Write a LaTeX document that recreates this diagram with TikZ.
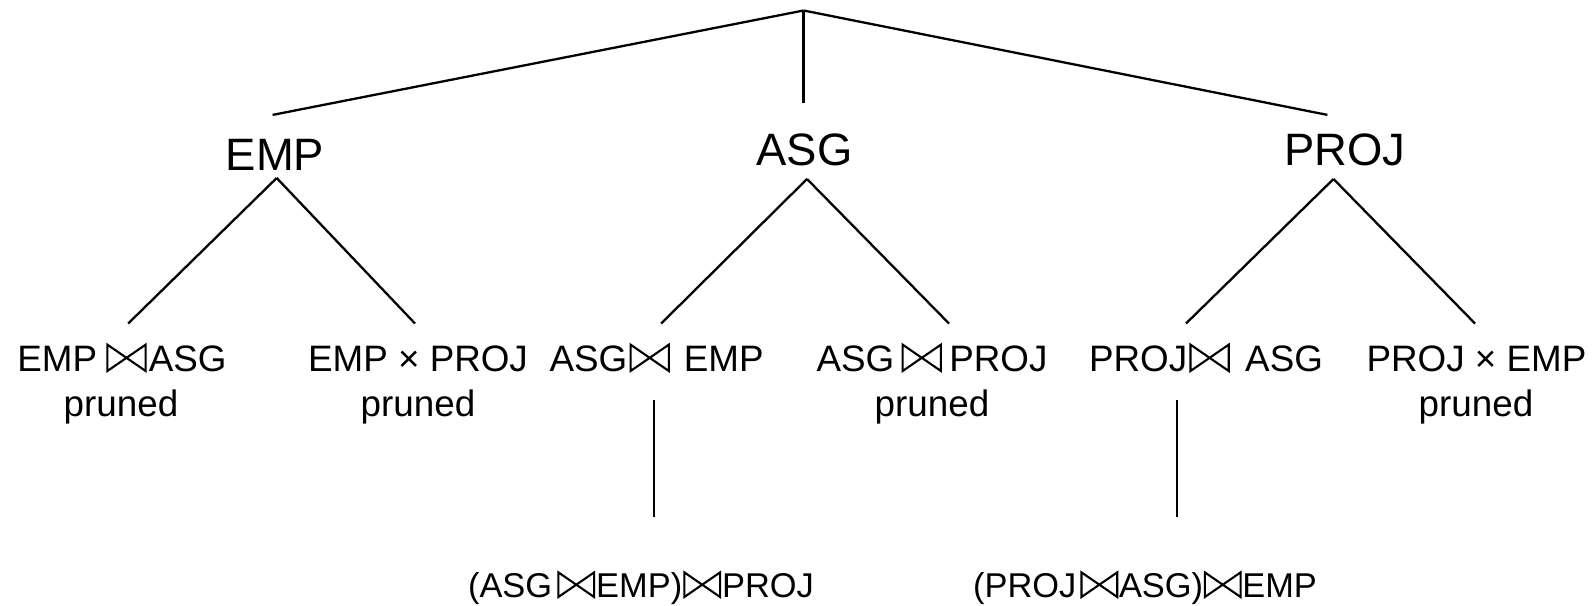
\documentclass[tikz,border=0pt]{standalone}
\usepackage{fontspec}
\setmainfont{Liberation Sans}
\newcommand{\bwt}{\tikz[baseline=0pt]\draw[line width=1.05pt,line join=miter,black] (0,0)--(0,0.716em)--(1.04em,0)--(1.04em,0.716em)--cycle;}
\tikzset{
  big/.style={anchor=base,inner sep=0pt,font=\fontsize{22.7}{26}\selectfont},
  small/.style={anchor=base,inner sep=0pt,font=\fontsize{18.4}{20}\selectfont},
  third/.style={anchor=base,inner sep=0pt,font=\fontsize{17.2}{20}\selectfont},
  edge/.style={line width=1.15pt,black}
}
\begin{document}
\begin{tikzpicture}[x=0.5pt,y=-0.5pt]
\useasboundingbox (0,0) rectangle (1595,605);
% root and level 1
\coordinate (root) at (803.6,10.5);
\coordinate (e1) at (272.6,114.9);
\coordinate (a1) at (803.6,102.7);
\coordinate (p1) at (1327.4,114.9);
\node[big] (emp) at (275,170.7) {EMP};
\node[big] (asg) at (804.6,165) {ASG};
\node[big] (proj) at (1344.7,165) {PROJ};
\draw[edge] (root) -- (e1);
\draw[edge] (root) -- (a1);
\draw[edge] (root) -- (p1);
% level 1 to level 2
\coordinate (et) at (276.7,178); \coordinate (el) at (128.2,323.5); \coordinate (er) at (415,323.5);
\coordinate (at) at (807,179); \coordinate (al) at (661.2,323.5); \coordinate (ar) at (949,323.5);
\coordinate (pt) at (1333.5,179); \coordinate (pl) at (1186,323.5); \coordinate (pr) at (1475,323.5);
\draw[edge] (et) -- (el); \draw[edge] (et) -- (er);
\draw[edge] (at) -- (al); \draw[edge] (at) -- (ar);
\draw[edge] (pt) -- (pl); \draw[edge] (pt) -- (pr);
% level 2
\node[small] (ea) at (122,371) {EMP\hspace{0.25em}\bwt\hspace{0.06em}ASG};
\node[small] (ep) at (418,371) {EMP × PROJ};
\node[small] (ae) at (656.6,371) {ASG\hspace{0.06em}\bwt\hspace{0.38em}EMP};
\node[small] (ap) at (932,371) {ASG\hspace{0.2em}\bwt\hspace{0.2em}PROJ};
\node[small] (pa) at (1206,371) {PROJ\hspace{0.06em}\bwt\hspace{0.42em}ASG};
\node[small] (pe) at (1476.5,371) {PROJ × EMP};
\node[small] (ea2) at (121,416) {pruned};
\node[small] (ep2) at (418,416) {pruned};
\node[small] (ap2) at (932,416) {pruned};
\node[small] (pe2) at (1476,416) {pruned};
% verticals
\coordinate (v1t) at (654,399.8); \coordinate (v1b) at (654,516.7);
\coordinate (v2t) at (1177,399.8); \coordinate (v2b) at (1177,516.7);
\draw[edge] (v1t) -- (v1b);
\draw[edge] (v2t) -- (v2b);
% level 3
\node[third] (aep) at (641,597) {(ASG\hspace{0.15em}\bwt\hspace{0.03em}EMP)\hspace{0.03em}\bwt\hspace{0.03em}PROJ};
\node[third] (pae) at (1145,597) {(PROJ\hspace{0.12em}\bwt\hspace{0.02em}ASG)\hspace{0.02em}\bwt\hspace{0.02em}EMP};
\end{tikzpicture}
\end{document}
